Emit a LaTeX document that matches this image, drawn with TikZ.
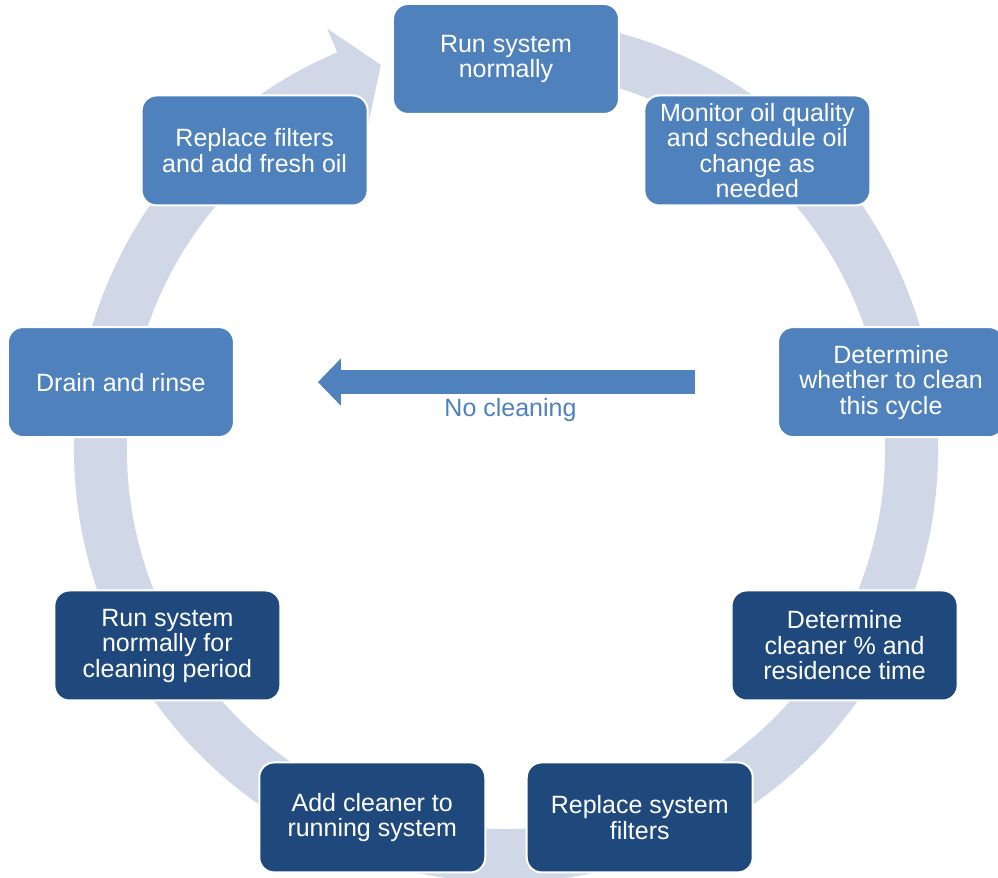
\documentclass[tikz,border=0pt]{standalone}
\usepackage{fontspec}
\setmainfont{Liberation Sans}
\usetikzlibrary{arrows.meta}
\definecolor{steplight}{HTML}{4F81BD}
\definecolor{stepdark}{HTML}{1F497D}
\definecolor{ringgray}{HTML}{D0D8E8}

\begin{document}
\begin{tikzpicture}[x=0.5pt,y=0.5pt,
  stage/.style={draw=white,line width=1pt,rounded corners=7.5pt,minimum width=113pt,minimum height=55pt,
    inner sep=1pt,align=center,text=white,font=\fontsize{12.5pt}{12.75pt}\selectfont},
  early/.style={stage,fill=steplight},
  late/.style={stage,fill=stepdark}]
\useasboundingbox (-506,-428) rectangle (492,450);
\fill[ringgray] (100:432) arc[start angle=100,end angle=-247,radius=216pt]
  -- (113:458) -- (108:405) -- (113:353) -- (113:379)
  arc[start angle=-247,end angle=100,radius=189.5pt] -- cycle;
\node[early] (run) at (90:391) {Run system\\normally};
\node[early] (monitor) at (50:391) {Monitor oil quality\\and schedule oil\\change as\\needed};
\node[early] (decide) at (10:391) {Determine\\whether to clean\\this cycle};
\node[late] (dose) at (-30:391) {Determine\\cleaner \% and\\residence time};
\node[late] (sysfilt) at (-70:391) {Replace system\\filters};
\node[late] (addcln) at (-110:391) {Add cleaner to\\running system};
\node[late] (runcln) at (-150:391) {Run system\\normally for\\cleaning period};
\node[early] (drain) at (170:391) {Drain and rinse};
\node[early] (refill) at (130:391) {Replace filters\\and add fresh oil};
\coordinate (nctail) at ([xshift=-41pt]decide.west);
\coordinate (nctip) at ([xshift=41.5pt]drain.east);
\draw[steplight,line width=12pt,-{Triangle[length=11.5pt,width=23pt]}] (nctail) -- (nctip)
  node[midway,below=1pt,xshift=2pt,inner sep=1pt,font=\fontsize{12.5pt}{12.75pt}\selectfont] {No cleaning};
\end{tikzpicture}
\end{document}
